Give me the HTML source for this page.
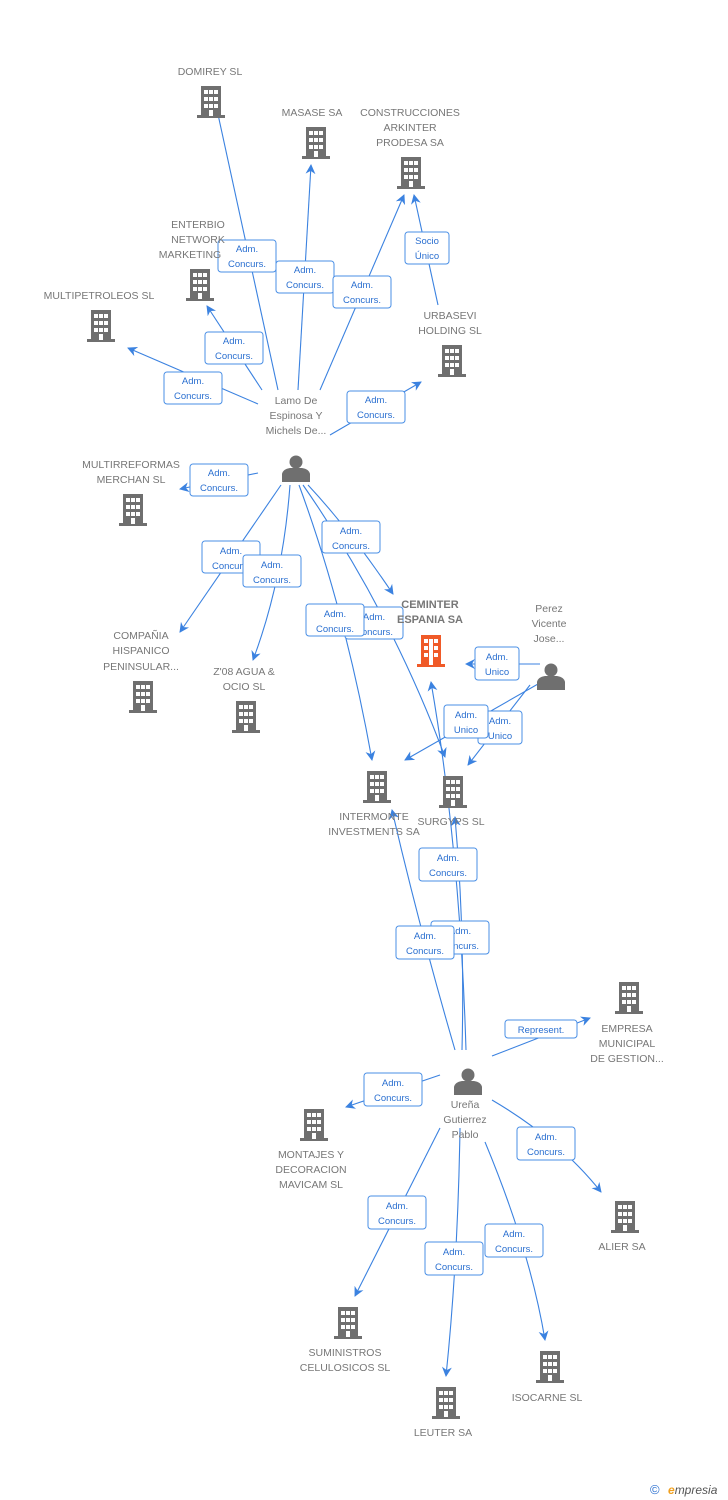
<!DOCTYPE html>
<html><head><meta charset="utf-8"><style>
body{margin:0;background:#fff;}
svg{display:block;font-family:"Liberation Sans",Arial,sans-serif;}
.t{fill:#777;font-size:10.5px;text-anchor:middle;}
.b{fill:#777;font-size:11px;font-weight:bold;text-anchor:middle;}
.l{stroke:#3b82e0;stroke-width:1.1;fill:none;}
.bx{fill:#fff;stroke:#4a8fe6;stroke-width:1;}
.bt{fill:#2a6fd0;font-size:9.5px;text-anchor:middle;}
</style></head><body>
<svg width="728" height="1500" viewBox="0 0 728 1500">
<defs>
<g id="bd"><rect x="-14" y="13" width="28" height="3" fill="#6f6f6f"/><rect x="-10" y="-16" width="20" height="30" fill="#6f6f6f"/>
<g fill="#fff"><rect x="-7" y="-12" width="4" height="4"/><rect x="-2" y="-12" width="4" height="4"/><rect x="3" y="-12" width="4" height="4"/>
<rect x="-7" y="-5" width="4" height="4"/><rect x="-2" y="-5" width="4" height="4"/><rect x="3" y="-5" width="4" height="4"/>
<rect x="-7" y="2" width="4" height="4"/><rect x="-2" y="2" width="4" height="4"/><rect x="3" y="2" width="4" height="4"/>
<rect x="-2" y="8" width="4" height="6"/></g></g>
<g id="bdo"><rect x="-14" y="13" width="28" height="3" fill="#f05a28"/><rect x="-10" y="-16" width="20" height="30" fill="#f05a28"/>
<g fill="#fff"><rect x="-7" y="-12" width="4" height="4"/><rect x="3" y="-12" width="4" height="4"/>
<rect x="-7" y="-5" width="4" height="4"/><rect x="3" y="-5" width="4" height="4"/>
<rect x="-7" y="2" width="4" height="4"/><rect x="3" y="2" width="4" height="4"/>
<rect x="-2" y="-12" width="4" height="26"/></g></g>
<g id="ps" fill="#6f6f6f"><circle cx="0" cy="-6" r="6.5"/><path d="M-14 14 L-14 6 Q-13 1 -6 0 L6 0 Q13 1 14 6 L14 14 Z"/></g>
<marker id="a" viewBox="0 0 10 10" refX="9" refY="5" markerWidth="9" markerHeight="9" orient="auto"><path d="M0 0 L10 5 L0 10 L3 5 Z" fill="#3b82e0"/></marker>
</defs>

<!-- edges -->
<g class="l" marker-end="url(#a)">
<path d="M278 390 L214 96"/>
<path d="M298 390 L311 165"/>
<path d="M320 390 L404 195"/>
<path d="M262 390 L207 306"/>
<path d="M258 404 L128 348"/>
<path d="M330 435 L421 382"/>
<path d="M258 473 L180 489"/>
<path d="M281 485 L180 632"/>
<path d="M290 485 Q283 580 253 660"/>
<path d="M308 485 Q350 530 393 594"/>
<path d="M299 485 Q345 610 372 760"/>
<path d="M303 485 Q390 610 445 757"/>
<path d="M438 305 L414 195"/>
<path d="M540 664 L466 664"/>
<path d="M545 680 L405 760"/>
<path d="M530 685 L468 765"/>
<path d="M455 1050 Q420 930 392 810"/>
<path d="M462 1050 Q465 930 455 817"/>
<path d="M466 1050 Q460 850 431 682"/>
<path d="M492 1056 L590 1018"/>
<path d="M440 1075 L346 1107"/>
<path d="M492 1100 Q560 1140 601 1192"/>
<path d="M440 1128 L355 1296"/>
<path d="M460 1128 Q458 1260 446 1376"/>
<path d="M485 1142 Q530 1250 545 1340"/>
</g>

<!-- boxes -->
<g>
<rect class="bx" x="218" y="240" width="58" height="32" rx="3"/><text class="bt" x="247" y="252">Adm.</text><text class="bt" x="247" y="267">Concurs.</text>
<rect class="bx" x="276" y="261" width="58" height="32" rx="3"/><text class="bt" x="305" y="273">Adm.</text><text class="bt" x="305" y="288">Concurs.</text>
<rect class="bx" x="333" y="276" width="58" height="32" rx="3"/><text class="bt" x="362" y="288">Adm.</text><text class="bt" x="362" y="303">Concurs.</text>
<rect class="bx" x="405" y="232" width="44" height="32" rx="3"/><text class="bt" x="427" y="244">Socio</text><text class="bt" x="427" y="259">Único</text>
<rect class="bx" x="205" y="332" width="58" height="32" rx="3"/><text class="bt" x="234" y="344">Adm.</text><text class="bt" x="234" y="359">Concurs.</text>
<rect class="bx" x="164" y="372" width="58" height="32" rx="3"/><text class="bt" x="193" y="384">Adm.</text><text class="bt" x="193" y="399">Concurs.</text>
<rect class="bx" x="347" y="391" width="58" height="32" rx="3"/><text class="bt" x="376" y="403">Adm.</text><text class="bt" x="376" y="418">Concurs.</text>
<rect class="bx" x="190" y="464" width="58" height="32" rx="3"/><text class="bt" x="219" y="476">Adm.</text><text class="bt" x="219" y="491">Concurs.</text>
<rect class="bx" x="322" y="521" width="58" height="32" rx="3"/><text class="bt" x="351" y="534">Adm.</text><text class="bt" x="351" y="549">Concurs.</text>
<rect class="bx" x="202" y="541" width="58" height="32" rx="3"/><text class="bt" x="231" y="554">Adm.</text><text class="bt" x="231" y="569">Concurs.</text>
<rect class="bx" x="243" y="555" width="58" height="32" rx="3"/><text class="bt" x="272" y="568">Adm.</text><text class="bt" x="272" y="583">Concurs.</text>
<rect class="bx" x="345" y="607" width="58" height="32" rx="3"/><text class="bt" x="374" y="620">Adm.</text><text class="bt" x="374" y="635">Concurs.</text>
<rect class="bx" x="306" y="604" width="58" height="32" rx="3"/><text class="bt" x="335" y="617">Adm.</text><text class="bt" x="335" y="632">Concurs.</text>
<rect class="bx" x="475" y="647" width="44" height="33" rx="3"/><text class="bt" x="497" y="660">Adm.</text><text class="bt" x="497" y="675">Unico</text>
<rect class="bx" x="478" y="711" width="44" height="33" rx="3"/><text class="bt" x="500" y="724">Adm.</text><text class="bt" x="500" y="739">Unico</text>
<rect class="bx" x="444" y="705" width="44" height="33" rx="3"/><text class="bt" x="466" y="718">Adm.</text><text class="bt" x="466" y="733">Unico</text>
<rect class="bx" x="419" y="848" width="58" height="33" rx="3"/><text class="bt" x="448" y="861">Adm.</text><text class="bt" x="448" y="876">Concurs.</text>
<rect class="bx" x="431" y="921" width="58" height="33" rx="3"/><text class="bt" x="460" y="934">Adm.</text><text class="bt" x="460" y="949">Concurs.</text>
<rect class="bx" x="396" y="926" width="58" height="33" rx="3"/><text class="bt" x="425" y="939">Adm.</text><text class="bt" x="425" y="954">Concurs.</text>
<rect class="bx" x="505" y="1020" width="72" height="18" rx="3"/><text class="bt" x="541" y="1033">Represent.</text>
<rect class="bx" x="364" y="1073" width="58" height="33" rx="3"/><text class="bt" x="393" y="1086">Adm.</text><text class="bt" x="393" y="1101">Concurs.</text>
<rect class="bx" x="517" y="1127" width="58" height="33" rx="3"/><text class="bt" x="546" y="1140">Adm.</text><text class="bt" x="546" y="1155">Concurs.</text>
<rect class="bx" x="368" y="1196" width="58" height="33" rx="3"/><text class="bt" x="397" y="1209">Adm.</text><text class="bt" x="397" y="1224">Concurs.</text>
<rect class="bx" x="485" y="1224" width="58" height="33" rx="3"/><text class="bt" x="514" y="1237">Adm.</text><text class="bt" x="514" y="1252">Concurs.</text>
<rect class="bx" x="425" y="1242" width="58" height="33" rx="3"/><text class="bt" x="454" y="1255">Adm.</text><text class="bt" x="454" y="1270">Concurs.</text>
</g>

<!-- nodes -->
<use href="#bd" x="211" y="102"/><text class="t" x="210" y="75">DOMIREY SL</text>
<use href="#bd" x="316" y="143"/><text class="t" x="312" y="116">MASASE SA</text>
<use href="#bd" x="411" y="173"/><text class="t" x="410" y="116">CONSTRUCCIONES</text><text class="t" x="410" y="131">ARKINTER</text><text class="t" x="410" y="146">PRODESA SA</text>
<use href="#bd" x="200" y="285"/><text class="t" x="198" y="228">ENTERBIO</text><text class="t" x="198" y="243">NETWORK</text><text class="t" x="190" y="258">MARKETING</text>
<use href="#bd" x="101" y="326"/><text class="t" x="99" y="299">MULTIPETROLEOS SL</text>
<use href="#bd" x="452" y="361"/><text class="t" x="450" y="319">URBASEVI</text><text class="t" x="450" y="334">HOLDING SL</text>
<use href="#ps" x="296" y="468"/><text class="t" x="296" y="404">Lamo De</text><text class="t" x="296" y="419">Espinosa Y</text><text class="t" x="296" y="434">Michels De...</text>
<use href="#bd" x="133" y="510"/><text class="t" x="131" y="468">MULTIRREFORMAS</text><text class="t" x="131" y="483">MERCHAN SL</text>
<use href="#bd" x="143" y="697"/><text class="t" x="141" y="639">COMPAÑIA</text><text class="t" x="141" y="654">HISPANICO</text><text class="t" x="141" y="670">PENINSULAR...</text>
<use href="#bd" x="246" y="717"/><text class="t" x="244" y="675">Z'08 AGUA &amp;</text><text class="t" x="244" y="690">OCIO SL</text>
<use href="#bdo" x="431" y="651"/><text class="b" x="430" y="608">CEMINTER</text><text class="b" x="430" y="623">ESPANIA SA</text>
<use href="#ps" x="551" y="676"/><text class="t" x="549" y="612">Perez</text><text class="t" x="549" y="627">Vicente</text><text class="t" x="549" y="642">Jose...</text>
<use href="#bd" x="377" y="787"/><text class="t" x="374" y="820">INTERMONTE</text><text class="t" x="374" y="835">INVESTMENTS SA</text>
<use href="#bd" x="453" y="792"/><text class="t" x="451" y="825">SURGYPS SL</text>
<use href="#bd" x="629" y="998"/><text class="t" x="627" y="1032">EMPRESA</text><text class="t" x="627" y="1047">MUNICIPAL</text><text class="t" x="627" y="1062">DE GESTION...</text>
<use href="#ps" x="468" y="1081"/><text class="t" x="465" y="1108">Ureña</text><text class="t" x="465" y="1123">Gutierrez</text><text class="t" x="465" y="1138">Pablo</text>
<use href="#bd" x="314" y="1125"/><text class="t" x="311" y="1158">MONTAJES Y</text><text class="t" x="311" y="1173">DECORACION</text><text class="t" x="311" y="1188">MAVICAM SL</text>
<use href="#bd" x="625" y="1217"/><text class="t" x="622" y="1250">ALIER SA</text>
<use href="#bd" x="348" y="1323"/><text class="t" x="345" y="1356">SUMINISTROS</text><text class="t" x="345" y="1371">CELULOSICOS SL</text>
<use href="#bd" x="550" y="1367"/><text class="t" x="547" y="1401">ISOCARNE SL</text>
<use href="#bd" x="446" y="1403"/><text class="t" x="443" y="1436">LEUTER SA</text>

<text x="650" y="1494" font-size="13" fill="#2a6fd0">©</text>
<text x="668" y="1494" font-size="12" font-style="italic" fill="#555"><tspan fill="#f0a020" font-weight="bold">e</tspan>mpresia</text>
</svg>
</body></html>
